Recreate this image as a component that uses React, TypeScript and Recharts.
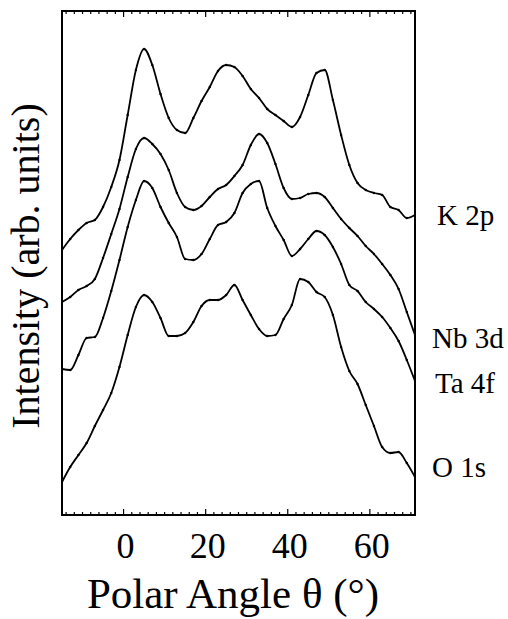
import { LineChart, Line, XAxis, YAxis, ReferenceArea, Customized } from 'recharts';

// polar angle (deg), sampled every 2 degrees
const angles = [
  -15, -13, -11, -9, -7, -5, -3, -1, 1, 3, 5, 7, 9, 11, 13, 15, 17, 19, 21, 23, 25, 27,
  29, 31, 33, 35, 37, 39, 41, 43, 45, 47, 49, 51, 53, 55, 57, 59, 61, 63, 65, 67, 69, 71,
];

// intensity, arbitrary units (curves are offset vertically)
const k2p = [
  265, 276, 285, 292, 295, 308, 328, 355, 400, 445, 466, 450, 421, 397, 385, 382, 397, 414,
  428, 444, 450, 448, 439, 426, 417, 406, 400, 394, 388, 398, 420, 442, 445, 415, 380, 350,
  332, 325, 322, 320, 308, 305, 297, 300,
];
const nb3d = [
  213, 218, 225, 229, 236, 257, 281, 306, 338, 366, 377, 371, 361, 345, 322, 308, 305, 309,
  318, 326, 330, 339, 350, 370, 381, 372, 351, 327, 316, 317, 321, 322, 318, 307, 296, 287,
  279, 269, 261, 251, 240, 226, 203, 180,
];
const ta4f = [
  146, 145, 160, 177, 178, 197, 224, 255, 288, 315, 334, 327, 308, 292, 278, 256, 255, 261,
  276, 290, 293, 302, 322, 331, 334, 307, 289, 275, 259, 266, 276, 284, 280, 268, 251, 230,
  224, 213, 206, 198, 187, 174, 155, 134,
];
const o1s = [
  33, 48, 60, 72, 89, 105, 122, 148, 180, 208, 220, 213, 197, 179, 179, 182, 193, 209,
  215, 215, 220, 230, 215, 200, 186, 179, 180, 196, 210, 236, 233, 223, 218, 200, 168, 144,
  131, 110, 89, 68, 62, 63, 52, 38,
];

const xTicks = [
  -14, -12, -10, -8, -6, -4, -2, 0, 2, 4, 6, 8, 10, 12, 14, 16, 18, 20, 22, 24, 26, 28, 30,
  32, 34, 36, 38, 40, 42, 44, 46, 48, 50, 52, 54, 56, 58, 60, 62, 64, 66, 68, 70,
];
const seriesNames = ['K 2p', 'Nb 3d', 'Ta 4f', 'O 1s'];

const data = angles.map((a, i) => ({
  angle: a,
  k2p: k2p[i],
  nb3d: nb3d[i],
  ta4f: ta4f[i],
  o1s: o1s[i],
}));

const serif = { fontFamily: "'Liberation Serif', 'DejaVu Serif', serif" };
const PLOT_H = 504;

function AngleTick({ x, y, payload }: any) {
  const v = payload.value;
  const major = v % 20 === 0;
  const len = major ? 6 : 3;
  return (
    <g>
      <line x1={x} y1={y} x2={x} y2={y - len} stroke="#000" strokeWidth={1.2} />
      <line x1={x} y1={y - PLOT_H} x2={x} y2={y - PLOT_H + len} stroke="#000" strokeWidth={1.2} />
      {major && (
        <text x={x + 2} y={y + 43} textAnchor="middle" fontSize={36} style={serif} fill="#000">
          {v}
        </text>
      )}
    </g>
  );
}

const labelPos = [
  [437, 225],
  [432, 348],
  [435, 393],
  [432, 477],
];

function Labels() {
  return (
    <g style={serif} fill="#000">
      {seriesNames.map((n, i) => (
        <text key={n} x={labelPos[i][0]} y={labelPos[i][1]} fontSize={29} style={serif}>
          {n}
        </text>
      ))}
      <text x={233} y={608} textAnchor="middle" fontSize={43} style={serif}>
        Polar Angle θ (°)
      </text>
      <text transform="translate(39, 266) rotate(-90)" textAnchor="middle" fontSize={40} style={serif}>
        Intensity (arb. units)
      </text>
    </g>
  );
}

export default function App() {
  const lineProps = {
    type: 'monotone' as const,
    stroke: '#000',
    strokeWidth: 1.8,
    dot: { r: 1.2, fill: '#000', stroke: 'none' },
    isAnimationActive: false,
  };
  return (
    <div style={{ position: 'absolute', left: 0, top: 0, background: '#fff' }}>
      <LineChart
        width={508}
        height={619}
        data={data}
        margin={{ top: 11, right: 93, bottom: 44, left: 62 }}
      >
        <XAxis
          dataKey="angle"
          type="number"
          domain={[-15, 71]}
          ticks={xTicks}
          interval={0}
          tickLine={false}
          axisLine={false}
          tickSize={0}
          tickMargin={0}
          height={60}
          tick={<AngleTick />}
          allowDataOverflow
        />
        <YAxis hide type="number" domain={[0, PLOT_H]} allowDataOverflow />
        <ReferenceArea
          x1={-15}
          x2={71}
          y1={0}
          y2={PLOT_H}
          fill="none"
          fillOpacity={0}
          stroke="#000"
          strokeWidth={2}
        />
        <Line dataKey="k2p" {...lineProps} />
        <Line dataKey="nb3d" {...lineProps} />
        <Line dataKey="ta4f" {...lineProps} />
        <Line dataKey="o1s" {...lineProps} />
        <Customized component={Labels} />
      </LineChart>
    </div>
  );
}
